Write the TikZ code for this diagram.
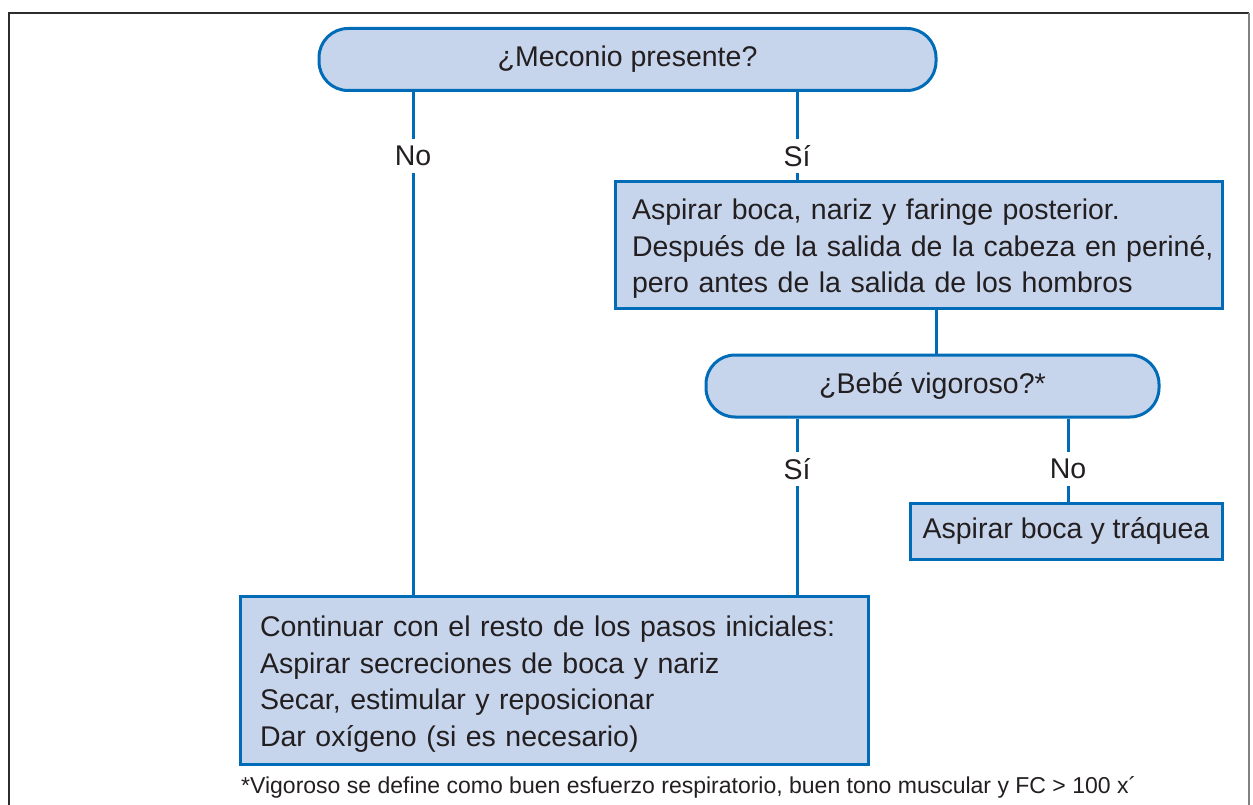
\documentclass[tikz,border=0pt]{standalone}
\usepackage{fontspec}
\setmainfont{Liberation Sans}
\usepackage{tikz}
\definecolor{boxColor}{RGB}{198,212,236}
\definecolor{lineColor}{RGB}{0,108,183}
\definecolor{txtColor}{RGB}{35,31,32}
\definecolor{frameColor}{RGB}{45,45,45}

\begin{document}
\begin{tikzpicture}[x=1pt,y=-1pt,
every node/.style={text=txtColor,font=\fontsize{28.5}{36.5}\selectfont},
term/.style={draw=lineColor,fill=boxColor,line width=3pt,rounded corners=29pt,
minimum height=62pt,inner sep=0pt},
stepbox/.style={draw=lineColor,fill=boxColor,line width=3pt,align=left},
answer/.style={inner sep=0pt,minimum height=34pt},
link/.style={draw=lineColor,line width=3pt}]
\path[use as bounding box,fill=white] (0,0) rectangle (1253,805);

\path[draw=frameColor,line width=2pt] (9,805) -- (9,13) -- (1249,13);
\path[draw=frameColor!60,line width=1.2pt] (1249,13) -- (1249,805);

\node[term,minimum width=617pt] (meco) at (627.5,59.5) {\raisebox{-2pt}{¿Meconio presente?}};

\node[stepbox,text width=573pt,inner xsep=17pt,inner ysep=0pt,minimum height=126pt] (aspira) at (918.5,245)
{\rule{0pt}{28pt}Aspirar boca, nariz y faringe posterior.\\
\makebox[\linewidth][s]{Después de la salida de la cabeza en periné,}\\
pero antes de la salida de los hombros};

\node[term,minimum width=453pt] (vigor) at (932.5,386) {\raisebox{-2pt}{¿Bebé vigoroso?*}};

\node[stepbox,minimum width=312pt,minimum height=56pt,inner sep=0pt] (traq) at (1066,531) {Aspirar boca y tráquea};

\node[stepbox,text width=588pt,inner xsep=20pt,inner ysep=0pt,minimum height=168pt] (cont) at (554,680)
{\rule{0pt}{29pt}Continuar con el resto de los pasos iniciales:\\
Aspirar secreciones de boca y nariz\\
Secar, estimular y reposicionar\\
Dar oxígeno (si es necesario)};

\node[answer] (no1) at (413,156) {No};
\node[answer] (si1) at (797,156) {Sí};
\node[answer] (si2) at (797,469) {Sí};
\node[answer] (no2) at (1068,469) {No};

\path[link] (meco.south -| no1) -- (no1);
\path[link] (no1) -- (no1 |- cont.north);
\path[link] (meco.south -| si1) -- (si1);
\path[link] (si1) -- (si1 |- aspira.north);
\path[link] (aspira.south -| 936,0) -- (vigor.north -| 936,0);
\path[link] (vigor.south -| si2) -- (si2);
\path[link] (si2) -- (si2 |- cont.north);
\path[link] (vigor.south -| no2) -- (no2);
\path[link] (no2) -- (no2 |- traq.north);

\node[anchor=base west,inner sep=0pt,font=\fontsize{23}{26}\selectfont] (note) at (241,793)
{*Vigoroso se define como buen esfuerzo respiratorio, buen tono muscular y FC > 100 x´};
\end{tikzpicture}
\end{document}
